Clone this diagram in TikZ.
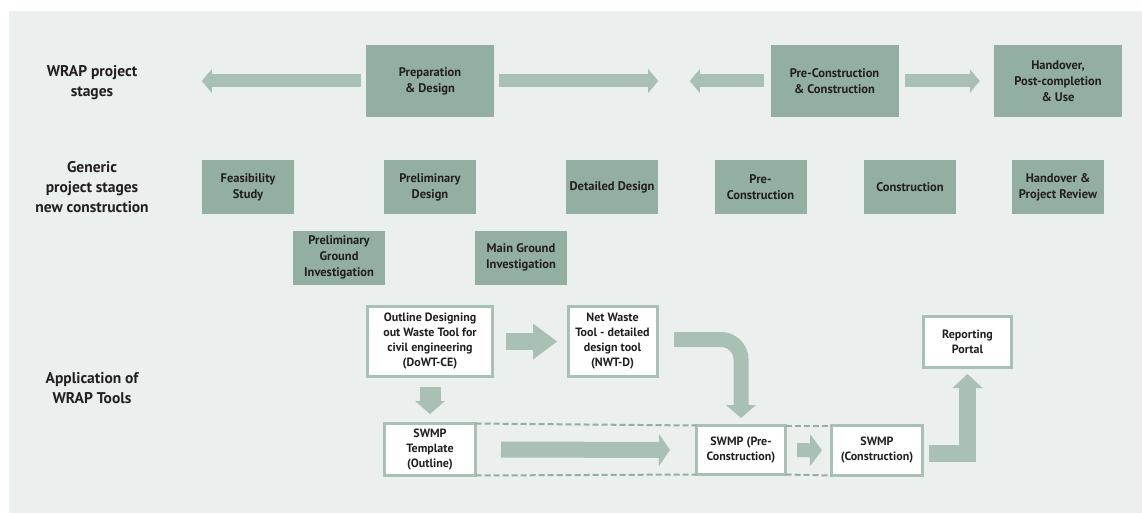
\documentclass[tikz,border=0pt]{standalone}
\usepackage{fontspec}
\setmainfont{PT Sans}[BoldFont={PT Sans Bold}]
\usetikzlibrary{positioning, arrows.meta}
\definecolor{stagegreen}{HTML}{93AFA1}
\definecolor{arrowgreen}{HTML}{A8C1B4}
\definecolor{panel}{HTML}{EBEFEE}
\definecolor{ink}{HTML}{231F20}

\begin{document}
\begin{tikzpicture}[x=1pt, y=-1pt,
        stage/.style={% For the WRAP project stages
            rectangle,
            fill=stagegreen,
            text=ink,
            align=center,
            inner sep=2pt,
            minimum width=128pt,
            minimum height=72pt,
            font=\bfseries\fontsize{12.5}{16}\selectfont,
            },
        gstage/.style={% For the generic stages
            stage,
            minimum width=92pt,
            minimum height=54pt,
            },
        tool/.style={% For the WRAP tools
            rectangle,
            draw=arrowgreen,
            line width=3pt,
            fill=white,
            text=ink,
            align=center,
            inner sep=2pt,
            outer sep=0pt,
            font=\bfseries\fontsize{12}{15}\selectfont,
            },
        rowlabel/.style={% Labels on the left
            text=ink,
            align=center,
            font=\bfseries\fontsize{15.5}{20}\selectfont,
            },
        FatArrow/.style n args={3}{% Wide arrows: shaft, head length, head width
            draw=arrowgreen,
            line width=#1,
            -{Triangle[length=#2,width=#3,line width=0pt]},
            },
        DashLine/.style={% Dashed frame round the SWMPs
            draw=stagegreen,
            line width=2pt,
            dash pattern=on 6pt off 3pt,
            },
            ]
         \useasboundingbox (0,0) rectangle (1142,513);
         \fill[panel] (9,11) rectangle (1142,513);
         % row labels
         \node[rowlabel] (lab1) at (92,83) {WRAP project\\stages};
         \node[rowlabel] (lab2) at (92,187) {Generic\\project stages\\new construction};
         \node[rowlabel] (lab3) at (92,388) {Application of\\WRAP Tools};
         % WRAP project stages
         \node[stage] (prep) at (430,81) {Preparation\\\& Design};
         \node[stage] (precon) at (834.5,81) {Pre-Construction\\\& Construction};
         \node[stage] (handover) at (1058,81) {Handover,\\Post-completion\\\& Use};
         % generic stages
         \node[gstage] (feas) at (248,187) {Feasibility\\Study};
         \node[gstage] (prelimdes) at (430,187) {Preliminary\\Design};
         \node[gstage] (detailed) at (612,187) {Detailed Design};
         \node[gstage] (precon2) at (760.5,187) {Pre-\\Construction};
         \node[gstage] (constr) at (910,187) {Construction};
         \node[gstage] (handrev) at (1058,187) {Handover \&\\Project Review};
         \node[gstage] (prelimgi) at (339,257.5) {Preliminary\\Ground\\Investigation};
         \node[gstage] (maingi) at (521,257.5) {Main Ground\\Investigation};
         % WRAP tools
         \node[tool, minimum width=125pt, minimum height=70pt] (outline) at (430,341.5) {Outline Designing\\out Waste Tool for\\civil engineering\\(DoWT-CE)};
         \node[tool, minimum width=89pt, minimum height=70pt] (netwaste) at (612.5,341.5) {Net Waste\\Tool - detailed\\design tool\\(NWT-D)};
         \node[tool, minimum width=91pt, minimum height=52pt] (template) at (430,449.5) {SWMP\\Template\\(Outline)};
         \node[tool, minimum width=89pt, minimum height=49pt] (swpre) at (741,450) {SWMP (Pre-\\Construction)};
         \node[tool, minimum width=91pt, minimum height=50pt] (swcon) at (877,450.5) {SWMP\\(Construction)};
         \node[tool, minimum width=88pt, minimum height=51pt] (reporting) at (967.5,342) {Reporting\\Portal};
         % arrows between the stages
         \draw[FatArrow={13pt}{10pt}{24pt}, shorten <=5pt] (prep.west) -- (feas.west |- prep.west);
         \draw[FatArrow={13pt}{10pt}{24pt}, shorten <=5pt] (prep.east) -- (detailed.east |- prep.east);
         \draw[FatArrow={13pt}{10pt}{24pt}, shorten <=6.5pt] (precon.west) -- ++(-80.5,0);
         \draw[FatArrow={13pt}{10pt}{24pt}, shorten <=6.5pt, shorten >=14pt] (precon.east) -- (handover.west);
         % arrows between the tools
         \draw[FatArrow={17pt}{24pt}{36pt}, shorten <=13.5pt, shorten >=11pt] (outline.east) -- (netwaste.west);
         \draw[FatArrow={21pt}{13pt}{30pt}, shorten <=10.5pt, shorten >=9.5pt] (outline.south) -- (template.north);
         \draw[FatArrow={15pt}{13pt}{30pt}, rounded corners=20pt] ([xshift=17pt,yshift=2pt]netwaste.east) -| ([yshift=7.5pt]swpre.north);
         \draw[FatArrow={16pt}{11pt}{32pt}, shorten <=25.5pt, shorten >=26.5pt] (template.east) -- (swpre.west);
         \draw[FatArrow={14pt}{12pt}{32pt}, shorten <=11.5pt, shorten >=9.5pt] (swpre.east) -- (swcon.west);
         \draw[FatArrow={17pt}{14pt}{30pt}] ([xshift=6.5pt,yshift=-3pt]swcon.east) -| ([yshift=-6.5pt]reporting.south);
         % dashed frame
         \draw[DashLine] (template.north east) -- (swpre.north west);
         \draw[DashLine] (template.south east) -- (swpre.south west);
         \draw[DashLine] (swpre.north east) -- (swcon.north west);
         \draw[DashLine] (swpre.south east) -- (swcon.south west);
\end{tikzpicture}
\end{document}
